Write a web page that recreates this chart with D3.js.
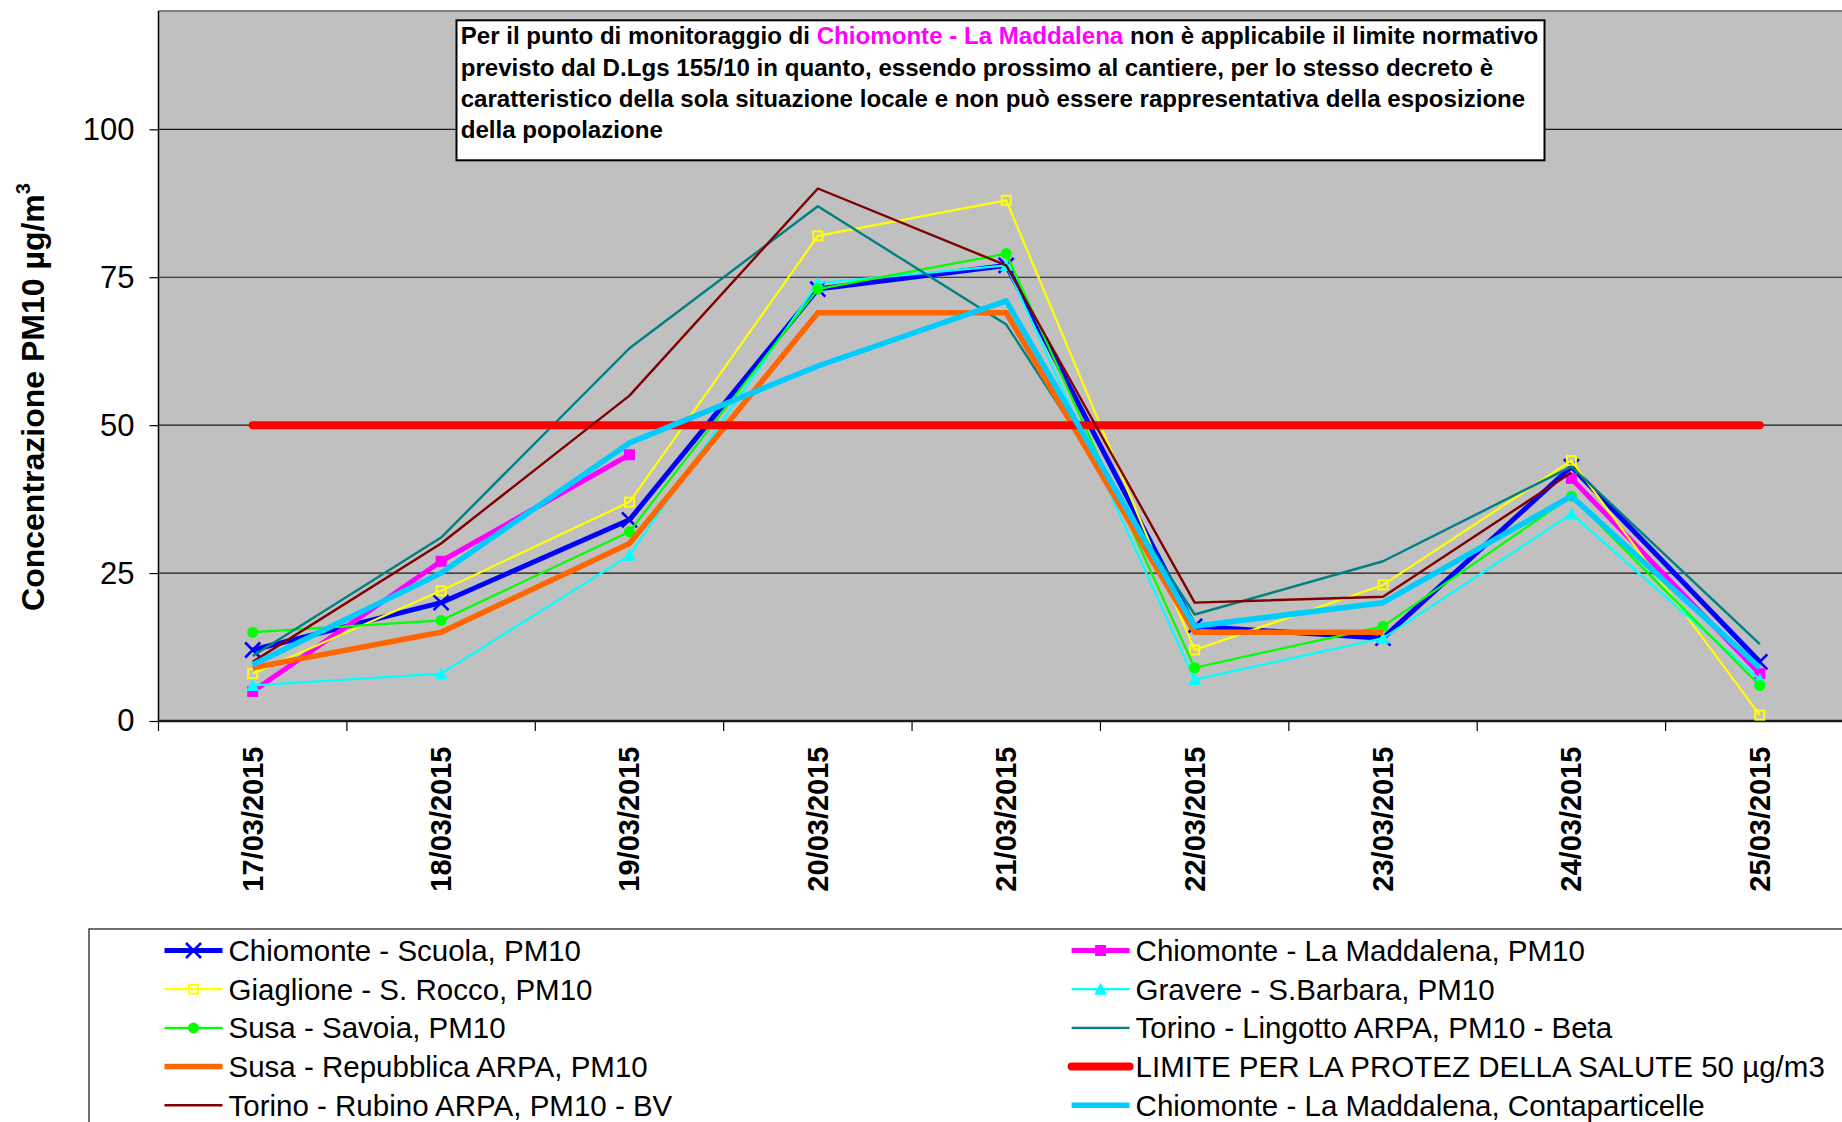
<!DOCTYPE html>
<html>
<head>
<meta charset="utf-8">
<script src="https://cdn.jsdelivr.net/npm/d3@7"></script>
<style>
  html, body { margin: 0; padding: 0; background: #fff; overflow: hidden; }
  svg { display: block; font-family: "Liberation Sans", Arial, sans-serif; }
</style>
</head>
<body>
<svg id="chart" width="1842" height="1122"></svg>
<script>
// ---------- DATA ----------
const categories = ["17/03/2015","18/03/2015","19/03/2015","20/03/2015","21/03/2015","22/03/2015","23/03/2015","24/03/2015","25/03/2015"];
const yTicks = [0, 25, 50, 75, 100];

const chiomonteScuola      = [12, 20, 34, 73, 77, 16, 14, 43, 10];
const chiomonteMaddalena   = [5, 27, 45, null, null, null, null, 41, 8];
const giaglioneRocco       = [8, 22, 37, 82, 88, 12, 23, 44, 1];
const graverebarbara       = [6, 8, 28, 74, 77, 7, 14, 35, 7];
const susaSavoia           = [15, 17, 32, 73, 79, 9, 16, 38, 6];
const torinoLingotto       = [11, 31, 63, 87, 67, 18, 27, 43, 13];
const susaRepubblica       = [9, 15, 30, 69, 69, 15, 15, null, null];
const limiteSalute         = [50, 50, 50, 50, 50, 50, 50, 50, 50];
const torinoRubino         = [10, 30, 55, 90, 77, 20, 21, 42, null];
const maddalenaContapart   = [9.5, 25, 47, 60, 71, 16, 20, 38, 9];

const seriesNames = [
  "Chiomonte - Scuola, PM10",
  "Chiomonte - La Maddalena, PM10",
  "Giaglione - S. Rocco, PM10",
  "Gravere - S.Barbara, PM10",
  "Susa - Savoia, PM10",
  "Torino - Lingotto ARPA, PM10 - Beta",
  "Susa - Repubblica ARPA, PM10",
  "LIMITE PER LA PROTEZ DELLA SALUTE 50 µg/m3",
  "Torino - Rubino ARPA, PM10 - BV",
  "Chiomonte - La Maddalena, Contaparticelle"
];
const seriesValues = [chiomonteScuola, chiomonteMaddalena, giaglioneRocco, graverebarbara, susaSavoia,
                      torinoLingotto, susaRepubblica, limiteSalute, torinoRubino, maddalenaContapart];

// ---------- STYLES ----------
const styles = [
  {color: "#0000FF", width: 5,   marker: "x"},
  {color: "#FF00FF", width: 5,   marker: "square"},
  {color: "#FFFF00", width: 2.2, marker: "hollowSquare"},
  {color: "#00FFFF", width: 2.2, marker: "triangle"},
  {color: "#00FF00", width: 2.2, marker: "circle"},
  {color: "#008080", width: 2.4, marker: null},
  {color: "#FF6600", width: 5.5, marker: null},
  {color: "#FF0000", width: 8,   marker: null, round: true},
  {color: "#800000", width: 2.4, marker: null},
  {color: "#00CCFF", width: 5.5, marker: null}
];

const svg = d3.select("#chart");
const plot = {left: 158.5, right: 1854, top: 11, bottom: 721};

const x = d3.scaleBand().domain(categories).range([plot.left, plot.right]).padding(0);
const cx = c => x(c) + x.bandwidth() / 2;
const y = d3.scaleLinear().domain([0, 120]).range([plot.bottom, plot.top]);

// plot background
svg.append("rect")
  .attr("x", plot.left).attr("y", plot.top)
  .attr("width", plot.right - plot.left).attr("height", plot.bottom - plot.top)
  .attr("fill", "#C0C0C0");
svg.append("line")
  .attr("x1", plot.left).attr("x2", plot.right)
  .attr("y1", plot.top).attr("y2", plot.top)
  .attr("stroke", "#808080").attr("stroke-width", 2);

// gridlines
svg.append("g").selectAll("line").data(yTicks.filter(d => d > 0)).join("line")
  .attr("x1", plot.left).attr("x2", plot.right)
  .attr("y1", d => y(d)).attr("y2", d => y(d))
  .attr("stroke", "#1a1a1a").attr("stroke-width", 1.2);

// y axis
const yAxis = svg.append("g")
  .attr("transform", `translate(${plot.left},0)`)
  .call(d3.axisLeft(y).tickValues(yTicks).tickSize(9).tickPadding(15).tickFormat(d3.format("d")));
yAxis.select(".domain").remove();
yAxis.selectAll(".tick line").attr("stroke", "#000").attr("stroke-width", 1.2);
yAxis.selectAll(".tick text")
  .attr("fill", "#000").attr("font-size", 31)
  .attr("font-family", "Liberation Sans, Arial, sans-serif");
svg.append("line")
  .attr("x1", plot.left).attr("x2", plot.left)
  .attr("y1", plot.top).attr("y2", plot.bottom)
  .attr("stroke", "#000").attr("stroke-width", 1.5);

// y title
const yTitle = svg.append("text")
  .attr("transform", "translate(44,397) rotate(-90)")
  .attr("text-anchor", "middle")
  .attr("font-weight", "bold").attr("font-size", 32).attr("fill", "#000");
yTitle.append("tspan").text("Concentrazione PM10 µg/m");
yTitle.append("tspan").attr("font-size", 20).attr("dy", -14).text("3");

// x axis
const edges = categories.map(c => x(c)).concat([x(categories[categories.length - 1]) + x.bandwidth()]);
svg.append("g").selectAll("line").data(edges).join("line")
  .attr("x1", d => d).attr("x2", d => d)
  .attr("y1", plot.bottom).attr("y2", plot.bottom + 10)
  .attr("stroke", "#000").attr("stroke-width", 1.2);
svg.append("line")
  .attr("x1", plot.left).attr("x2", plot.right)
  .attr("y1", plot.bottom).attr("y2", plot.bottom)
  .attr("stroke", "#1a1a1a").attr("stroke-width", 2.5);
svg.append("g").selectAll("text").data(categories).join("text")
  .attr("transform", d => `translate(${cx(d)},746.5) rotate(-90)`)
  .attr("text-anchor", "end").attr("dominant-baseline", "central")
  .attr("font-weight", "bold").attr("font-size", 29).attr("fill", "#000")
  .text(d => d);

// markers
function drawMarker(g, type, color, px, py, scale = 1) {
  if (!type) return;
  if (type === "x") {
    const s = 7.5 * scale;
    g.append("path").attr("d", `M${px - s},${py - s}L${px + s},${py + s}M${px - s},${py + s}L${px + s},${py - s}`)
      .attr("stroke", color).attr("stroke-width", 2.6).attr("fill", "none");
  } else if (type === "square") {
    const s = 5.5 * scale;
    g.append("rect").attr("x", px - s).attr("y", py - s).attr("width", 2 * s).attr("height", 2 * s).attr("fill", color);
  } else if (type === "hollowSquare") {
    const s = 4.5 * scale;
    g.append("rect").attr("x", px - s).attr("y", py - s).attr("width", 2 * s).attr("height", 2 * s)
      .attr("fill", "none").attr("stroke", color).attr("stroke-width", 2);
  } else if (type === "triangle") {
    const s = 6.5 * scale;
    g.append("path").attr("d", `M${px},${py - s}L${px + s},${py + s * 0.85}L${px - s},${py + s * 0.85}Z`).attr("fill", color);
  } else if (type === "circle") {
    g.append("circle").attr("cx", px).attr("cy", py).attr("r", 5.5 * scale).attr("fill", color);
  }
}

// series
const line = d3.line()
  .defined(d => d.v !== null)
  .x(d => cx(d.c)).y(d => y(d.v));

seriesValues.forEach((vals, i) => {
  const st = styles[i];
  const pts = vals.map((v, j) => ({c: categories[j], v}));
  const g = svg.append("g");
  g.append("path").datum(pts)
    .attr("d", line)
    .attr("fill", "none").attr("stroke", st.color).attr("stroke-width", st.width)
    .attr("stroke-linejoin", "round")
    .attr("stroke-linecap", st.round ? "round" : "butt");
  pts.filter(d => d.v !== null).forEach(d => drawMarker(g, st.marker, st.color, cx(d.c), y(d.v)));
});

// annotation box
const ann = svg.append("g");
ann.append("rect").attr("x", 456.5).attr("y", 20.3).attr("width", 1088).attr("height", 140)
  .attr("fill", "#fff").attr("stroke", "#000").attr("stroke-width", 2);
const annLines = [
  [["Per il punto di monitoraggio di ", "#000"], ["Chiomonte - La Maddalena", "#FF00FF"], [" non è applicabile il limite normativo", "#000"]],
  [["previsto dal D.Lgs 155/10 in quanto, essendo prossimo al cantiere, per lo stesso decreto è", "#000"]],
  [["caratteristico della sola situazione locale e non può essere rappresentativa della esposizione", "#000"]],
  [["della popolazione", "#000"]]
];
const annTexts = annLines.map((parts, k) => {
  const t = ann.append("text").attr("x", 460.7).attr("y", 44.3 + k * 31.3)
    .attr("font-weight", "bold").attr("font-size", 22).attr("fill", "#000");
  parts.forEach(p => t.append("tspan").attr("fill", p[1]).text(p[0]));
  return t;
});
const w0 = annTexts[0].node().getComputedTextLength();
const fs = 22 * 1078 / w0;
annTexts.forEach(t => t.attr("font-size", fs));

// legend
const lg = svg.append("g");
lg.append("rect").attr("x", 89).attr("y", 929).attr("width", 1800).attr("height", 260)
  .attr("fill", "#fff").attr("stroke", "#404040").attr("stroke-width", 1.5);
seriesNames.forEach((name, i) => {
  const col = i % 2, row = Math.floor(i / 2);
  const x0 = col === 0 ? 164.5 : 1071.6;
  const yy = 950.5 + row * 38.7;
  const st = styles[i];
  lg.append("line").attr("x1", x0).attr("x2", x0 + 58).attr("y1", yy).attr("y2", yy)
    .attr("stroke", st.color).attr("stroke-width", st.width)
    .attr("stroke-linecap", st.round ? "round" : "butt");
  drawMarker(lg, st.marker, st.color, x0 + 29, yy);
  lg.append("text").attr("x", x0 + 64).attr("y", yy)
    .attr("dominant-baseline", "central").attr("font-size", 29.5).attr("fill", "#000")
    .text(name);
});
</script>
</body>
</html>
